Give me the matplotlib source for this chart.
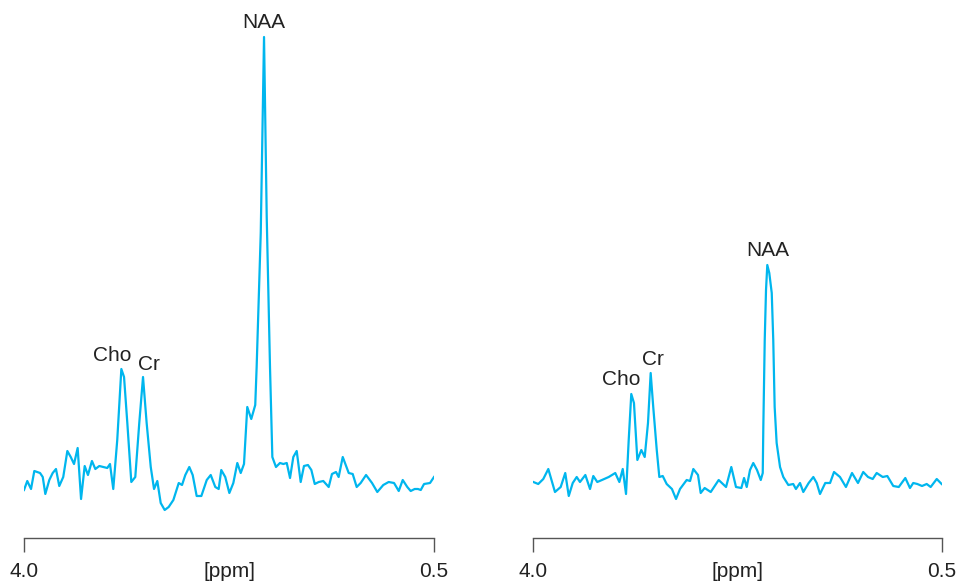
import numpy as np
import matplotlib
matplotlib.use("Agg")
import matplotlib.pyplot as plt

plt.rcParams['font.family'] = ['Liberation Sans', 'DejaVu Sans']

# left spectrum (ppm, arbitrary intensity)
left_ppm = [4.000, 3.972, 3.940, 3.912, 3.863, 3.840, 3.818, 3.784, 3.755, 3.727,
            3.699, 3.665, 3.630, 3.601, 3.573, 3.542, 3.513, 3.482, 3.454, 3.420,
            3.391, 3.357, 3.323, 3.289, 3.266, 3.238, 3.204, 3.169, 3.146, 3.118,
            3.084, 3.050, 3.016, 2.984, 2.953, 2.918, 2.890, 2.862, 2.833, 2.799,
            2.765, 2.725, 2.679, 2.651, 2.623, 2.589, 2.560, 2.526, 2.486, 2.440,
            2.406, 2.367, 2.338, 2.316, 2.282, 2.247, 2.213, 2.179, 2.150, 2.122,
            2.094, 2.060, 2.026, 2.014, 1.979, 1.951, 1.928, 1.900, 1.880, 1.849,
            1.815, 1.786, 1.757, 1.729, 1.701, 1.672, 1.638, 1.610, 1.576, 1.547,
            1.518, 1.484, 1.445, 1.399, 1.371, 1.337, 1.314, 1.279, 1.228, 1.194,
            1.160, 1.126, 1.080, 1.029, 0.984, 0.933, 0.887, 0.841, 0.801, 0.767,
            0.728, 0.699, 0.665, 0.637, 0.613, 0.585, 0.534, 0.500]
left_int = [48, 57, 49, 67, 65, 61, 44, 58, 65, 69,
            52, 61, 87, 81, 74, 90, 39, 72, 63, 77,
            69, 72, 71, 70, 74, 49, 98, 169, 161, 115,
            56, 61, 115, 161, 115, 71, 49, 57, 35, 28,
            31, 38, 55, 53, 63, 71, 63, 42, 42, 58,
            63, 51, 49, 68, 61, 45, 55, 75, 65, 74,
            131, 119, 133, 171, 305, 501, 321, 171, 81, 71,
            75, 74, 75, 60, 81, 87, 56, 72, 73, 68,
            54, 56, 57, 51, 64, 66, 61, 81, 65, 64,
            51, 55, 63, 55, 46, 53, 56, 55, 47, 58,
            51, 47, 49, 49, 48, 54, 55, 61]

# right spectrum
right_ppm = [3.997, 3.955, 3.912, 3.869, 3.812, 3.763, 3.724, 3.694, 3.660, 3.626,
             3.598, 3.552, 3.512, 3.484, 3.450, 3.410, 3.352, 3.296, 3.261, 3.232,
             3.204, 3.181, 3.159, 3.136, 3.107, 3.073, 3.044, 3.016, 2.993, 2.971,
             2.941, 2.919, 2.890, 2.856, 2.811, 2.776, 2.742, 2.685, 2.656, 2.628,
             2.588, 2.565, 2.531, 2.479, 2.411, 2.348, 2.303, 2.263, 2.217, 2.194,
             2.171, 2.143, 2.115, 2.083, 2.051, 2.034, 2.029, 2.017, 2.006, 1.995,
             1.978, 1.957, 1.944, 1.932, 1.915, 1.886, 1.858, 1.815, 1.773, 1.750,
             1.715, 1.687, 1.641, 1.601, 1.572, 1.544, 1.499, 1.458, 1.424, 1.373,
             1.322, 1.270, 1.219, 1.174, 1.133, 1.093, 1.059, 1.007, 0.968, 0.917,
             0.870, 0.814, 0.774, 0.746, 0.711, 0.671, 0.631, 0.597, 0.545, 0.503]
right_int = [56, 54, 59, 69, 46, 51, 65, 42, 55, 61,
             56, 63, 49, 62, 56, 58, 61, 65, 56, 69,
             44, 98, 144, 135, 78, 88, 81, 115, 165, 131,
             88, 61, 62, 54, 49, 39, 49, 58, 57, 69,
             63, 45, 50, 46, 58, 51, 71, 51, 50, 60,
             51, 68, 75, 68, 58, 65, 111, 198, 248, 273,
             265, 245, 198, 131, 95, 71, 61, 53, 54, 49,
             55, 46, 55, 61, 55, 44, 55, 55, 66, 61,
             51, 65, 55, 66, 61, 59, 65, 61, 62, 52,
             51, 60, 50, 55, 54, 52, 54, 51, 59, 54]

metabolites = ["Cho", "Cr", "NAA"]
shifts = [3.2, 3.0, 2.0]
ppm_range = [4.0, 0.5]
tick_labels = ["4.0", "0.5"]

line_color = "#00b6ee"
text_color = "#222222"

# label offsets in points (dx, dy) per panel
offsets = [
    [(-6.3, 6.0), (4.1, 5.3), (0, 6.2)],
    [(-7.6, 6.5), (1.7, 6.0), (0, 6.5)],
]

fig = plt.figure(figsize=(9.58, 5.82), dpi=100)
ax_left = fig.add_axes([24 / 958, 44 / 582, 410 / 958, 538 / 582])
ax_right = fig.add_axes([533 / 958, 44 / 582, 409 / 958, 538 / 582])

panels = [(ax_left, left_ppm, left_int), (ax_right, right_ppm, right_int)]

for i, (ax, ppm, inten) in enumerate(panels):
    ppm = np.array(ppm)
    inten = np.array(inten)
    ax.plot(ppm, inten, color=line_color, lw=1.6, solid_joinstyle='round')
    ax.set_xlim(ppm_range[0], ppm_range[1])
    ax.set_ylim(0, 538)

    for sp in ["top", "left", "right"]:
        ax.spines[sp].set_visible(False)
    ax.spines["bottom"].set_color("#555555")
    ax.spines["bottom"].set_linewidth(1.0)
    ax.set_yticks([])
    ax.set_xticks(ppm_range)
    ax.set_xticklabels(tick_labels)
    ax.tick_params(axis="x", direction="out", length=10, width=1.0,
                   color="#555555", labelsize=15, labelcolor=text_color, pad=7)
    ax.set_xlabel("[ppm]", fontsize=15, color=text_color)
    ax.xaxis.set_label_coords(0.5, -0.062)
    ax.xaxis.label.set_va("center")
    ax.patch.set_alpha(0)

    # label peaks
    for name, s, (dx, dy) in zip(metabolites, shifts, offsets[i]):
        mask = np.abs(ppm - s) < 0.1
        j = np.argmax(np.where(mask, inten, -1))
        ax.annotate(name, xy=(ppm[j], inten[j]), xytext=(dx, dy),
                    textcoords="offset points", ha="center", va="baseline",
                    fontsize=15, color=text_color, annotation_clip=False)

fig.savefig("out.png", dpi=100)
